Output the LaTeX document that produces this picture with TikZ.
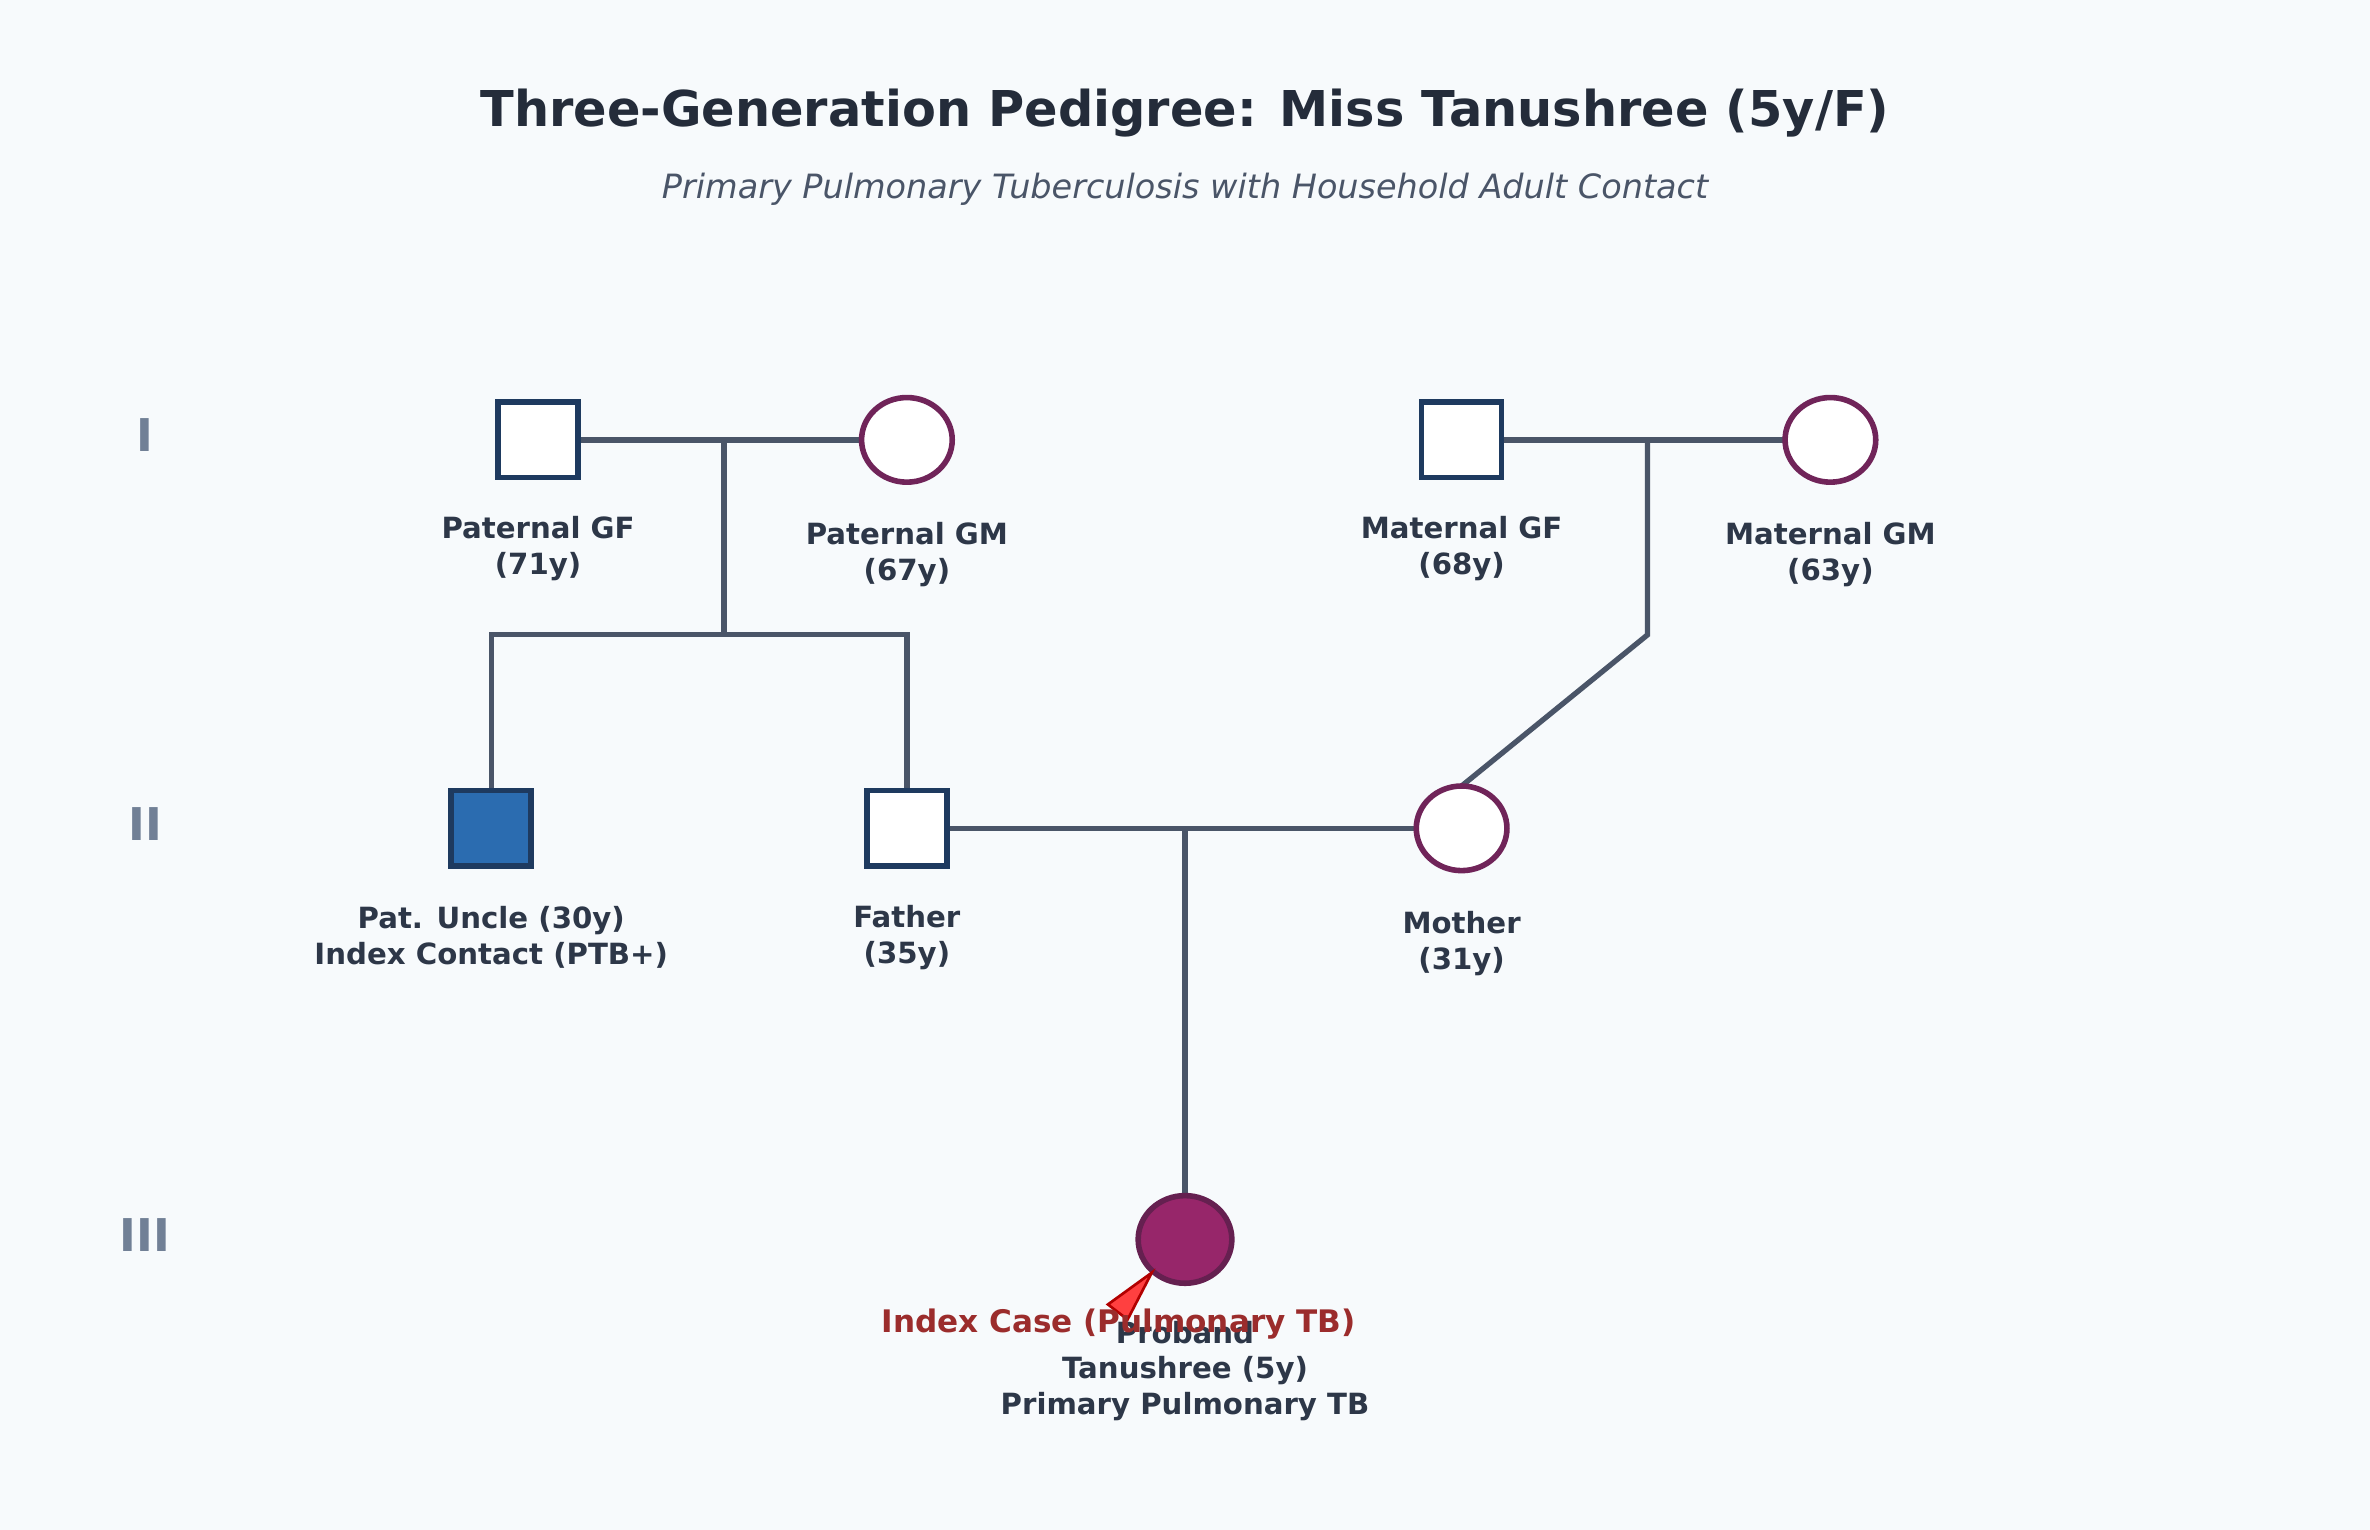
\documentclass[tikz,border=0pt]{standalone}
\usepackage{fontspec}
\setmainfont{DejaVu Sans}
\usetikzlibrary{positioning,shapes.geometric}
\definecolor{bgcol}{HTML}{F7FAFC}
\definecolor{malecol}{HTML}{1E3A5F}
\definecolor{femcol}{HTML}{702459}
\definecolor{linecol}{HTML}{4A5568}
\definecolor{textcol}{HTML}{2D3748}
\definecolor{gencol}{HTML}{718096}
\definecolor{affcol}{HTML}{2B6CB0}
\definecolor{probcol}{HTML}{97266A}
\definecolor{redcol}{HTML}{9B2C2C}
\tikzstyle{male}=[draw=malecol,line width=2.1pt,fill=white,minimum width=1.06cm,minimum height=1.0cm,inner sep=0pt]
\tikzstyle{female}=[ellipse,draw=femcol,line width=2.1pt,fill=white,minimum width=1.2cm,minimum height=1.12cm,inner sep=0pt]
\tikzstyle{label}=[font=\bfseries\fontsize{11}{13.5}\selectfont,text=textcol,align=center]
\tikzstyle{gen}=[font=\bfseries\fontsize{17}{20}\selectfont,text=gencol]
\tikzstyle{line}=[draw=linecol,line width=2pt]
\begin{document}
\begin{tikzpicture}[x=0.02cm,y=-0.02cm]
  \fill[bgcol] (0,0) rectangle (1568,1012);
  \useasboundingbox (0,0) rectangle (1568,1012);
  % titles
  \node[font=\bfseries\fontsize{18.6}{21}\selectfont,text=textcol!80!black] (title) at (784,75) {Three-Generation Pedigree: Miss Tanushree (5y/F)};
  \node[font=\itshape\fontsize{12.6}{15}\selectfont,text=linecol] (subtitle) at (784,125) {Primary Pulmonary Tuberculosis with Household Adult Contact};
  % generations
  \node[gen] (genI) at (96,288) {I};
  \node[gen] (genII) at (96,545) {II};
  \node[gen] (genIII) at (96,817) {III};
  % junctions
  \coordinate (pm) at (479,291);
  \coordinate (ps) at (479,420);
  \coordinate (pl) at (325,420);
  \coordinate (pr) at (600,420);
  \coordinate (mm) at (1090,291);
  \coordinate (ms) at (1090,420);
  \coordinate (cm) at (784,548);
  \coordinate (mtop) at (967,520);
  % connectors
  \draw[line] (356,291) -- (600,291);
  \draw[line] (967,291) -- (1211,291);
  \draw[line] (600,548) -- (967,548);
  \draw[line] (pm) -- (ps);
  \draw[line] (325,548) -- (pl) -- (pr) -- (600,548);
  \draw[line] (mm) -- (ms) -- (mtop);
  \draw[line] (cm) -- (784,820);
  % generation I
  \node[male] (PGF) at (356,291) {};
  \node[female] (PGM) at (600,291) {};
  \node[male] (MGF) at (967,291) {};
  \node[female] (MGM) at (1211,291) {};
  % generation II
  \node[male,fill=affcol] (Uncle) at (325,548) {};
  \node[male] (Father) at (600,548) {};
  \node[female] (Mother) at (967,548) {};
  % generation III
  \node[female,fill=probcol,draw=femcol!90!black,minimum width=1.24cm,minimum height=1.16cm] (Proband) at (784,820) {};
  % labels
  \node[label] (PGFlab) at (356,363) {Paternal GF\\(71y)};
  \node[label] (PGMlab) at (600,367) {Paternal GM\\(67y)};
  \node[label] (MGFlab) at (967,363) {Maternal GF\\(68y)};
  \node[label] (MGMlab) at (1211,367) {Maternal GM\\(63y)};
  \node[label] (Unclelab) at (325,620) {Pat. Uncle (30y)\\Index Contact (PTB+)};
  \node[label] (Fatherlab) at (600,620) {Father\\(35y)};
  \node[label] (Motherlab) at (967,624) {Mother\\(31y)};
  \node[label] (Probandlab) at (784,907) {Proband\\Tanushree (5y)\\Primary Pulmonary TB};
  % proband arrow
  \coordinate (tip) at (762,842);
  \filldraw[fill=red!75!white,draw=red!70!black,line width=1pt] (tip) -- (733,863) -- (746,873) -- cycle;
  \node[label,text=redcol,font=\bfseries\fontsize{11.7}{14}\selectfont] (indexlab) at (740,876) {Index Case (Pulmonary TB)};
\end{tikzpicture}
\end{document}
